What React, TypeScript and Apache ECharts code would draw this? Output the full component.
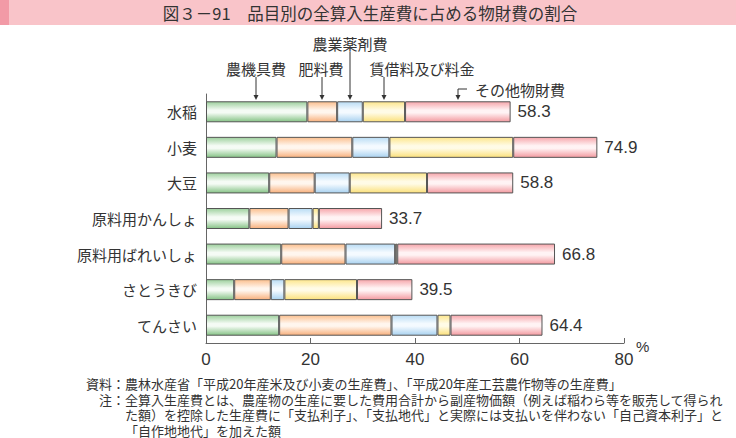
import React, { useEffect, useRef } from "react";
import * as echarts from "echarts";

const categories = ["水稲", "小麦", "大豆", "原料用かんしょ", "原料用ばれいしょ", "さとうきび", "てんさい"];
const machinery = [19.4, 13.5, 12.1, 8.3, 14.4, 5.4, 14.0];
const fertilizer = [5.7, 14.5, 8.7, 7.5, 12.3, 7.0, 21.5];
const agrochem = [4.9, 7.1, 6.7, 4.6, 9.5, 2.6, 8.8];
const rental = [8.1, 23.7, 14.8, 1.2, 0.4, 13.9, 2.5];
const other = [20.2, 16.1, 16.5, 12.1, 30.2, 10.6, 17.6];
const totals = [58.3, 74.9, 58.8, 33.7, 66.8, 39.5, 64.4];
const seriesNames = ["農機具費", "肥料費", "農業薬剤費", "賃借料及び料金", "その他物財費"];
const xTicks = [0, 20, 40, 60, 80];

const title = "図３－91　品目別の全算入生産費に占める物財費の割合";
const notePrefixes = ["資料：", "注："];
const noteBody = [
  "農林水産省「平成20年産米及び小麦の生産費」、「平成20年産工芸農作物等の生産費」",
  "全算入生産費とは、農産物の生産に要した費用合計から副産物価額（例えば稲わら等を販売して得られ",
  "た額）を控除した生産費に「支払利子」、「支払地代」と実際には支払いを伴わない「自己資本利子」と",
  "「自作地地代」を加えた額",
];

const JP = "'Noto Sans CJK JP', sans-serif";
const NUM = "'Liberation Sans', Arial, sans-serif";

function grad(edgeTop: string, mid: string, edgeBottom: string) {
  return new echarts.graphic.LinearGradient(0, 0, 0, 1, [
    { offset: 0, color: edgeTop },
    { offset: 0.42, color: mid },
    { offset: 0.55, color: mid },
    { offset: 1, color: edgeBottom },
  ]);
}

export default function App() {
  const ref = useRef<HTMLDivElement>(null);
  useEffect(() => {
    if (!ref.current) return;
    const chart = echarts.init(ref.current, undefined, { renderer: "svg" });
    const fills = [
      grad("#9dd09d", "#f5fbf5", "#86c386"),
      grad("#fbbf8e", "#fff6ee", "#f8b07c"),
      grad("#b9dcf4", "#f4faff", "#a9d2f0"),
      grad("#fde68c", "#fffbe6", "#fbe07a"),
      grad("#f6a6ab", "#fff3f4", "#f39aa0"),
    ];
    const datasets = [machinery, fertilizer, agrochem, rental, other];

    const arrow = (x: number, y1: number, y2: number) => [
      { type: "line", shape: { x1: x, y1, x2: x, y2: y2 - 3 }, style: { stroke: "#333", lineWidth: 1 } },
      { type: "polygon", shape: { points: [[x - 2.5, y2 - 5], [x + 2.5, y2 - 5], [x, y2]] }, style: { fill: "#333" } },
    ];
    const annText = (t: string, x: number, y: number, align: string = "center") => ({
      type: "text",
      x,
      y,
      style: { text: t, font: `15px ${JP}`, fill: "#333", textAlign: align, textVerticalAlign: "middle", lineHeight: 16 },
    });

    const lh = 15.5;
    const graphic: any[] = [
      { type: "rect", shape: { x: 0, y: 0, width: 736, height: 25 }, style: { fill: "#f9c4c9" } },
      { type: "rect", shape: { x: 0, y: 0, width: 9, height: 25 }, style: { fill: "#f29aa6" } },
      {
        type: "text",
        x: 370,
        y: 13,
        style: { text: title, font: `16.5px ${JP}`, fill: "#333", textAlign: "center", textVerticalAlign: "middle" },
      },
      annText(seriesNames[0], 256, 68),
      ...arrow(256, 77, 100),
      annText(seriesNames[1], 321, 68),
      ...arrow(322, 77, 100),
      annText(seriesNames[2], 350, 43),
      ...arrow(350, 52, 100),
      annText(seriesNames[3], 422, 68),
      ...arrow(384, 77, 100),
      annText(seriesNames[4], 475, 89, "left"),
      { type: "line", shape: { x1: 467, y1: 89, x2: 458, y2: 89 }, style: { stroke: "#333", lineWidth: 1 } },
      ...arrow(458, 89, 100),
      {
        type: "text",
        x: 636,
        y: 346,
        style: { text: "%", font: `15px ${NUM}`, fill: "#333", textAlign: "left", textVerticalAlign: "middle" },
      },
      {
        type: "text",
        x: 125,
        y: 383.5 - lh / 2,
        style: {
          text: notePrefixes.join("\n"),
          font: `13px ${JP}`,
          fill: "#333",
          textAlign: "right",
          textVerticalAlign: "top",
          lineHeight: lh,
        },
      },
      {
        type: "text",
        x: 125,
        y: 383.5 - lh / 2,
        style: {
          text: noteBody.join("\n"),
          font: `13px ${JP}`,
          fill: "#333",
          textAlign: "left",
          textVerticalAlign: "top",
          lineHeight: lh,
        },
      },
    ];

    chart.setOption({
      animation: false,
      grid: { left: 206, right: 112, top: 94, height: 249, containLabel: false },
      xAxis: {
        type: "value",
        min: xTicks[0],
        max: xTicks[xTicks.length - 1],
        interval: 20,
        axisLine: { show: true, lineStyle: { color: "#666", width: 1 } },
        axisTick: { show: true, inside: true, length: 5, lineStyle: { color: "#666" } },
        splitLine: { show: false },
        axisLabel: { fontSize: 17, color: "#333", fontFamily: NUM, margin: 8 },
      },
      yAxis: {
        type: "category",
        inverse: true,
        data: categories,
        axisLine: { show: true, lineStyle: { color: "#666", width: 1 } },
        axisTick: { show: false },
        axisLabel: { fontSize: 15, color: "#333", fontFamily: JP, margin: 9 },
      },
      series: datasets.map((d, i) => ({
        name: seriesNames[i],
        type: "bar",
        stack: "total",
        barWidth: 21,
        data: d,
        itemStyle: { color: fills[i], borderColor: "#555", borderWidth: 1 },
        label:
          i === datasets.length - 1
            ? {
                show: true,
                position: "right",
                distance: 7,
                formatter: (p: any) => totals[p.dataIndex].toFixed(1),
                fontSize: 17,
                color: "#333",
                fontFamily: NUM,
              }
            : { show: false },
      })),
      graphic,
    });
    return () => chart.dispose();
  }, []);
  return (
    <div
      ref={ref}
      style={{ position: "absolute", left: 0, top: 0, width: 736, height: 438 }}
    />
  );
}
